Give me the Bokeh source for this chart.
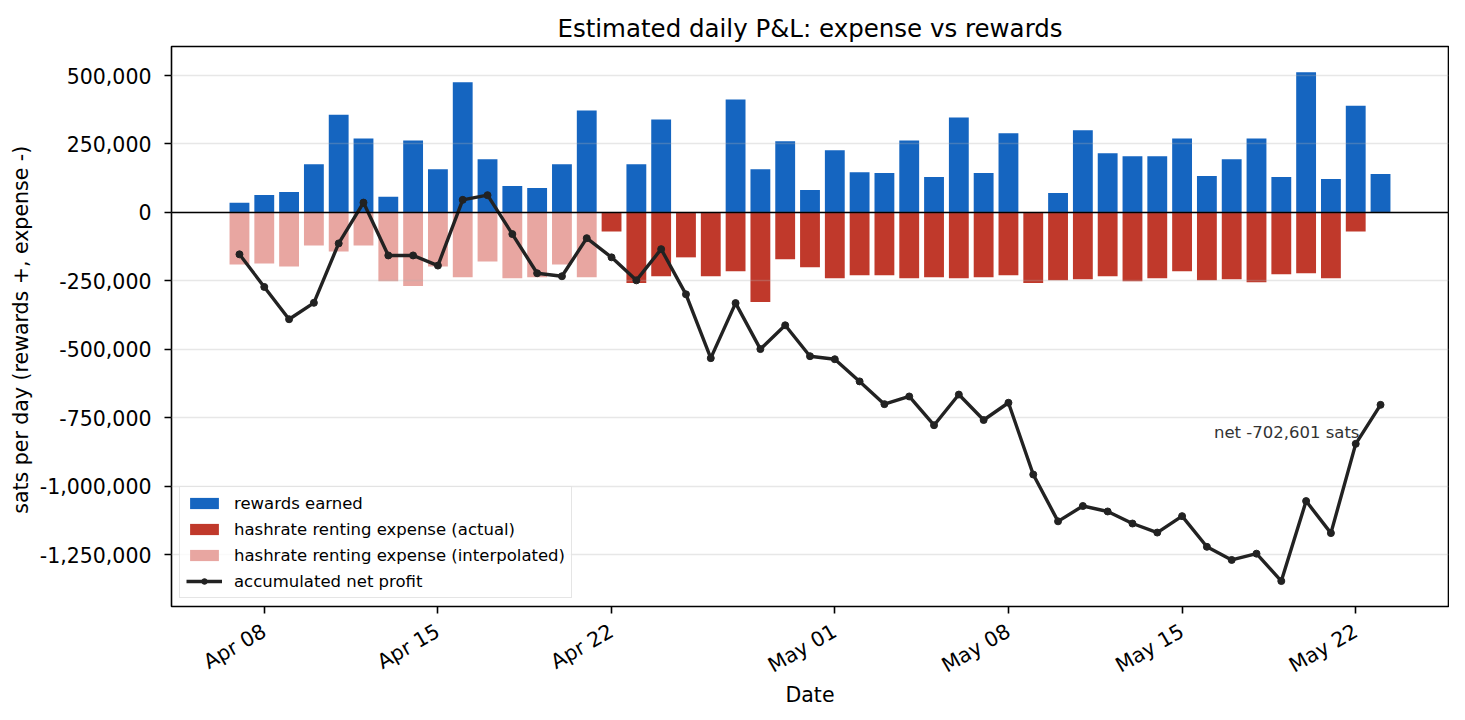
import math
import pandas as pd
from bokeh.plotting import figure
from bokeh.models import (Range1d, FixedTicker, Span, Legend, LegendItem, Label, Title)
from bokeh.embed import file_html
from bokeh.resources import INLINE

# ---------------- data ----------------
dates = [
    "2025-04-07", "2025-04-08", "2025-04-09", "2025-04-10", "2025-04-11", "2025-04-12",
    "2025-04-13", "2025-04-14", "2025-04-15", "2025-04-16", "2025-04-17", "2025-04-18",
    "2025-04-19", "2025-04-20", "2025-04-21", "2025-04-22", "2025-04-23", "2025-04-24",
    "2025-04-25", "2025-04-26", "2025-04-27", "2025-04-28", "2025-04-29", "2025-04-30",
    "2025-05-01", "2025-05-02", "2025-05-03", "2025-05-04", "2025-05-05", "2025-05-06",
    "2025-05-07", "2025-05-08", "2025-05-09", "2025-05-10", "2025-05-11", "2025-05-12",
    "2025-05-13", "2025-05-14", "2025-05-15", "2025-05-16", "2025-05-17", "2025-05-18",
    "2025-05-19", "2025-05-20", "2025-05-21", "2025-05-22", "2025-05-23",
]

rewards = [
    35000, 64000, 75000, 176000, 357000, 270000,
    57000, 263000, 158000, 475000, 194000, 97000,
    89000, 176000, 372000, 0, 176000, 339000,
    0, 0, 412000, 158000, 260000, 82000,
    227000, 147000, 144000, 263000, 129000, 347000,
    144000, 289000, 0, 71000, 300000, 216000,
    205000, 205000, 270000, 133000, 194000, 270000,
    129000, 512000, 122000, 390000, 140000,
]

expense = [
    190000, 186000, 197000, 121000, 143000, 121000,
    251000, 269000, 197000, 237000, 179000, 240000,
    237000, 190000, 237000, 70000, 258000, 233000,
    164000, 233000, 215000, 327000, 171000, 200000,
    240000, 229000, 229000, 240000, 237000, 240000,
    237000, 229000, 258000, 248000, 244000, 233000,
    251000, 240000, 215000, 248000, 244000, 255000,
    226000, 222000, 240000, 70000, 0,
]

# True where the expense is interpolated (no actual record)
interpolated = [True] * 15 + [False] * 32

net_profit = [
    -153000, -272000, -390000, -330000, -113000, 36000,
    -157000, -157000, -194000, 46000, 63000, -79000,
    -222000, -233000, -94000, -164000, -248000, -134000,
    -299000, -532000, -331000, -499000, -412000, -525000,
    -536000, -617000, -700000, -672000, -777000, -665000,
    -758000, -695000, -957000, -1128000, -1072000, -1092000,
    -1136000, -1169000, -1109000, -1221000, -1269000, -1246000,
    -1346000, -1054000, -1171000, -845000, -702601,
]

x_tick_dates = ["2025-04-08", "2025-04-15", "2025-04-22", "2025-05-01",
                "2025-05-08", "2025-05-15", "2025-05-22"]
x_tick_labels = ["Apr 08", "Apr 15", "Apr 22", "May 01", "May 08", "May 15", "May 22"]

y_ticks = [500000, 250000, 0, -250000, -500000, -750000, -1000000, -1250000]
y_tick_labels = ["500,000", "250,000", "0", "-250,000", "-500,000", "-750,000",
                 "-1,000,000", "-1,250,000"]

net_label = "net -702,601 sats"

# ---------------- helpers ----------------
DAY = 86400000.0
FONT = "DejaVu Sans"
x = [pd.Timestamp(d).value / 1e6 for d in dates]

rew_x = [xi for xi, r in zip(x, rewards) if r > 0]
rew_top = [r for r in rewards if r > 0]
act_x = [xi for xi, e, f in zip(x, expense, interpolated) if e > 0 and not f]
act_bot = [-e for e, f in zip(expense, interpolated) if e > 0 and not f]
int_x = [xi for xi, e, f in zip(x, expense, interpolated) if e > 0 and f]
int_bot = [-e for e, f in zip(expense, interpolated) if e > 0 and f]

span = (x[-1] - x[0]) + 0.8 * DAY
x_start = x[0] - 0.4 * DAY - 0.05 * span
x_end = x[-1] + 0.4 * DAY + 0.05 * span
y_start, y_end = -1439000, 606000

p = figure(
    width=1449, height=716,
    x_axis_type="datetime",
    x_range=Range1d(x_start, x_end),
    y_range=Range1d(y_start, y_end),
    output_backend="svg", toolbar_location=None,
    min_border_left=171, min_border_right=1,
    min_border_top=46, min_border_bottom=110,
)
p.background_fill_color = "white"
p.border_fill_color = "white"
p.outline_line_color = "black"
p.outline_line_width = 1.6

p.title.text = "Estimated daily P&L: expense vs rewards"
p.title.align = "center"
p.title.text_font = FONT
p.title.text_font_size = "24.5px"
p.title.text_font_style = "normal"
p.title.text_color = "black"
p.title.standoff = 7

blue = "#1565C0"
red = "#C0392B"
pink = "#E8A6A1"

r_rew = p.vbar(x=rew_x, top=rew_top, bottom=0, width=0.8 * DAY,
               fill_color=blue, line_color=None)
r_act = p.vbar(x=act_x, top=0, bottom=act_bot, width=0.8 * DAY,
               fill_color=red, line_color=None)
r_int = p.vbar(x=int_x, top=0, bottom=int_bot, width=0.8 * DAY,
               fill_color=pink, line_color=None)

r_line = p.line(x, net_profit, line_color="#222222", line_width=3.4, level="annotation")
r_pts = p.scatter(x, net_profit, size=7, fill_color="#222222", line_color="#222222",
                  level="annotation")

p.add_layout(Span(location=0, dimension="width", line_color="black", line_width=1.4))

# grid
p.xgrid.visible = False
p.ygrid.ticker = FixedTicker(ticks=y_ticks)
p.ygrid.grid_line_color = "#b0b0b0"
p.ygrid.grid_line_alpha = 0.3
p.ygrid.grid_line_width = 1.3
p.ygrid.level = "guide"

# axes
for ax in (p.xaxis[0], p.yaxis[0]):
    ax.axis_line_color = None
    ax.major_tick_out = 7
    ax.major_tick_in = 0
    ax.major_tick_line_width = 1.6
    ax.major_tick_line_color = "black"
    ax.minor_tick_line_color = None
    ax.major_label_text_font = FONT
    ax.major_label_text_font_size = "20.5px"
    ax.major_label_text_color = "black"
    ax.axis_label_text_font = FONT
    ax.axis_label_text_font_size = "20.5px"
    ax.axis_label_text_font_style = "normal"
    ax.axis_label_text_color = "black"

p.yaxis.ticker = FixedTicker(ticks=y_ticks)
p.yaxis.major_label_overrides = {float(v): s for v, s in zip(y_ticks, y_tick_labels)}
p.yaxis.major_label_standoff = 13
p.yaxis.axis_label = "sats per day  (rewards +, expense -)"
p.yaxis.axis_label_standoff = 4

xt = [pd.Timestamp(d).value / 1e6 for d in x_tick_dates]
p.xaxis.ticker = FixedTicker(ticks=xt)
p.xaxis.major_label_overrides = {float(v): s for v, s in zip(xt, x_tick_labels)}
p.xaxis.major_label_orientation = math.pi / 6
p.xaxis.major_label_standoff = 16

# x axis title as a panel below the axis
p.add_layout(Title(text="Date", align="center", text_font=FONT, text_font_size="20.5px",
                   text_font_style="normal", text_color="black", standoff=-19, offset=0),
             "below")

# annotation
p.add_layout(Label(x=x[-1] - 0.85 * DAY, y=net_profit[-1] - 102000, text=net_label,
                   text_align="right", text_baseline="alphabetic",
                   text_font=FONT, text_font_size="16.5px", text_color="#333333"))

legend = Legend(items=[
    LegendItem(label="rewards earned", renderers=[r_rew]),
    LegendItem(label="hashrate renting expense (actual)", renderers=[r_act]),
    LegendItem(label="hashrate renting expense (interpolated)", renderers=[r_int]),
    LegendItem(label="accumulated net profit", renderers=[r_line, r_pts]),
], location=(8, 8))
legend.label_text_font = FONT
legend.label_text_font_size = "16.5px"
legend.label_text_color = "black"
legend.glyph_width = 36
legend.glyph_height = 14
legend.label_height = 20
legend.spacing = 6
legend.padding = 6
legend.margin = 0
legend.label_standoff = 12
legend.border_line_color = "#cccccc"
legend.border_line_width = 1
legend.background_fill_alpha = 0.8
p.add_layout(legend, "center")

open("out.html", "w").write(file_html(p, INLINE))
